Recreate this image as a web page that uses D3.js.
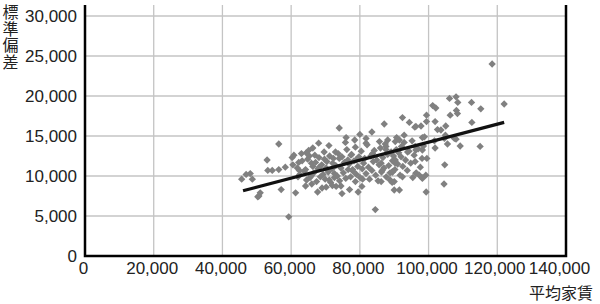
<!DOCTYPE html>
<html><head><meta charset="utf-8">
<script src="https://cdn.jsdelivr.net/npm/d3@7"></script>
<style>
html,body{margin:0;padding:0;background:#fff;}
svg{display:block;}
</style></head>
<body>
<script>
// ---- data ----
const xTicks = [0, 20000, 40000, 60000, 80000, 100000, 120000, 140000];
const yTicks = [0, 5000, 10000, 15000, 20000, 25000, 30000];
const xTitle = "平均家賃";
const yTitle = "標準偏差";
// 平均家賃 (x) and 標準偏差 (y) per point
const rentX = [
45600,46900,48100,48700,50300,50600,51000,53000,53200,54500,56400,56400,57100,58300,59300,60300,60500,61300,62200,62400,
64400,65100,66300,65300,64200,64500,64200,65800,66300,67700,67100,68200,69700,70200,70200,71100,72100,72900,72600,73100,
74000,74500,74800,74000,76000,76500,77400,77900,78700,78900,80800,80600,81800,81800,83500,83700,84500,85700,86200,86500,
87100,87600,88800,89400,90000,90300,
118500,122000,112500,115200,115000,104700,104500,99300,106100,108000,108500,106300,108100,108400,101200,102100,99400,92400,94400,96000,
97800,99400,101900,105000,102600,103600,112600,108000,109200,105500,104900,104600,101700,101900,98800,98500,96100,98100,99500,96100,
93900,92000,90700,91500,90300,92900,88100,87600,90300,89500,96300,97300,98100,95400,92400,90000,89400,91500,86200,107500,
96300,98200,99200,98200,96300,
60800,61800,63000,62000,
62500,63200,63800,64800,65500,65900,66600,66900,67400,67800,68100,68500,68900,69300,69600,69900,70400,70800,71200,71500,
71900,72300,72600,73000,73400,73700,74100,74500,74800,75200,75500,75900,76200,76600,76900,77300,77600,78000,78300,78700,
79000,79400,79700,80100,80400,80700,81100,81400,81800,82100,82500,82800,83200,83500,83900,84200,84600,84900,85300,85600,
86000,86300,86700,87000,87400,87700,88100,88400,88800,89100,89500,89800,90200,90600,91000,91300,91700,92100,92500,92900,
93300,93800,94300,94800,95200,95800,96400,97000,97600,98200,75800,78500,80000,71000,68000,66000,69000,72000,77000,79500
];
const sdY = [
9600,10200,10300,9600,7400,7500,7900,12000,10700,10700,14000,10800,8300,11100,4900,12300,11400,7900,11700,10700,
12900,13200,13500,12500,10800,9500,8750,10000,11200,8000,11700,11100,12100,11000,8600,9500,11600,13000,10300,8700,
16000,8750,7800,12200,14800,12000,12600,10800,9300,12000,9600,8700,14700,14100,15500,12800,5800,14300,11600,10700,
16500,13300,9500,10500,8250,12000,
24000,19000,19200,18400,13700,11400,9000,8000,19700,19900,19200,17600,18200,17800,18800,18500,17600,17300,16700,16100,
16250,16800,16800,16250,15800,15750,16700,14600,13750,14000,15100,14700,14400,13500,14900,13750,13700,12200,12200,11800,
13000,12400,14800,14500,14300,15100,14500,13700,11600,10500,10300,10100,9800,9800,9900,9300,9200,8250,9300,14700,
13250,13250,10100,9700,16200,
12600,11000,12800,9900,
10200,11900,10600,12100,9800,11600,10400,12600,9300,10900,12300,9900,11400,10200,13000,9600,11800,10500,12500,9200,
10900,12200,9800,11300,10000,12800,9400,11000,12400,10400,11700,9700,13300,10800,11500,9900,12700,10600,11900,13600,
10200,11200,12400,9800,13100,10900,11600,12200,10300,13900,11100,9600,12500,10700,11800,13200,10100,12000,9400,11400,
13500,10500,12300,11000,14000,9900,12700,11300,10400,13000,11900,12500,10800,13300,11500,12900,10100,13700,11200,14200,
12000,10700,13100,11600,14400,12600,10400,13400,11100,14800,14200,14500,15200,13800,14100,9000,8500,8800,8300,8000
];
const trendX = [46000, 122000];
const trendY = [8150, 16700];

// ---- layout ----
const W = 600, H = 304;
const L = 85, R = 566, T = 5, B = 256;
const svg = d3.select("body").append("svg").attr("width", W).attr("height", H);

const x = d3.scaleLinear().domain([0, 140000]).range([L, R]);
const y = d3.scaleLinear().domain([0, 30000]).range([B, 16]);

const fmt = d3.format(",");
const numFont = "'Liberation Sans', Arial, sans-serif";
const cjkFont = "'Noto Sans CJK JP', sans-serif";

// grid
const grid = svg.append("g").attr("stroke", "#c4c4c4").attr("stroke-width", 1.3);
grid.selectAll("line.h").data(yTicks.filter(d => d > 0)).join("line")
  .attr("x1", L).attr("x2", R).attr("y1", d => y(d)).attr("y2", d => y(d));
grid.selectAll("line.v").data(xTicks.filter(d => d > 0 && d < 140000)).join("line")
  .attr("y1", T).attr("y2", B).attr("x1", d => x(d)).attr("x2", d => x(d));

// points
const pts = rentX.map((v, i) => [v, sdY[i]]);
const sym = d3.symbol().type(d3.symbolSquare).size(27);
svg.append("g").selectAll("path").data(pts).join("path")
  .attr("d", sym)
  .attr("transform", d => `translate(${x(d[0])},${y(d[1])}) rotate(45)`)
  .attr("fill", "#808080");

// trend line
svg.append("line")
  .attr("x1", x(trendX[0])).attr("y1", y(trendY[0]))
  .attr("x2", x(trendX[1])).attr("y2", y(trendY[1]))
  .attr("stroke", "#111").attr("stroke-width", 3.2);

// axes frame
const fr = svg.append("g").attr("stroke", "#000").attr("stroke-width", 2.5).attr("fill", "none");
fr.append("path").attr("d", `M${L},${T}V${B}H${R}V${T}`);

// y axis labels
const yAx = svg.append("g").attr("transform", `translate(${L},0)`)
  .call(d3.axisLeft(y).tickValues(yTicks).tickFormat(fmt).tickSize(0).tickPadding(8));
yAx.select(".domain").remove();
yAx.selectAll("text").attr("font-family", numFont).attr("font-size", 17).attr("fill", "#222");

// x axis labels
const xAx = svg.append("g").attr("transform", `translate(0,${B})`)
  .call(d3.axisBottom(x).tickValues(xTicks).tickFormat(fmt).tickSize(0).tickPadding(6));
xAx.select(".domain").remove();
xAx.selectAll("text").attr("font-family", numFont).attr("font-size", 17).attr("fill", "#222")
  .attr("dx", d => d === 140000 ? -7 : d === 120000 ? -3 : -2);

// titles
svg.append("text").text(xTitle)
  .attr("x", 593).attr("y", 299).attr("text-anchor", "end")
  .attr("font-family", cjkFont).attr("font-size", 16).attr("fill", "#222");
svg.append("text").text(yTitle)
  .attr("x", 10.5).attr("y", 4)
  .attr("text-anchor", "start")
  .style("writing-mode", "vertical-rl")
  .attr("letter-spacing", 0.5)
  .attr("font-family", cjkFont).attr("font-size", 16).attr("fill", "#222");
</script>
</body></html>
